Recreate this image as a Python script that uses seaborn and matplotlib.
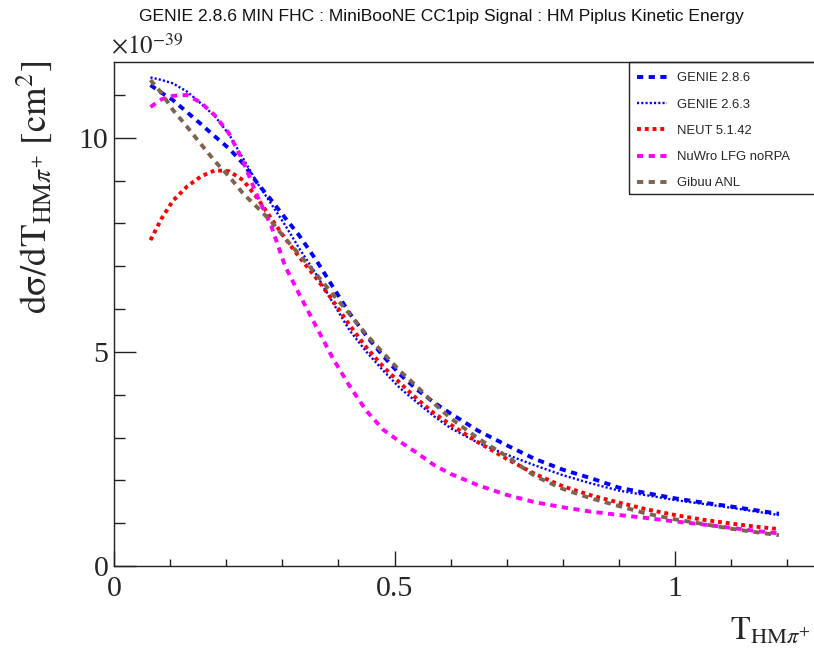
import numpy as np
import pandas as pd
import matplotlib
matplotlib.use("Agg")
import matplotlib.pyplot as plt
import seaborn as sns
from matplotlib.ticker import MultipleLocator
from matplotlib.patches import Rectangle

# ---------------- data ----------------
t_hm = [0.065, 0.085, 0.105, 0.13, 0.155, 0.18, 0.205, 0.23, 0.255, 0.28, 0.305,
        0.33, 0.36, 0.39, 0.42, 0.45, 0.48, 0.51, 0.54, 0.57, 0.6, 0.65, 0.7,
        0.75, 0.8, 0.85, 0.9, 0.95, 1.0, 1.05, 1.1, 1.15, 1.185]

genie_286 = [11.23, 11.05, 10.88, 10.60, 10.32, 10.03, 9.75, 9.40, 8.95, 8.55, 8.13,
             7.72, 7.15, 6.52, 5.90, 5.37, 4.90, 4.47, 4.12, 3.82, 3.56, 3.15, 2.82,
             2.50, 2.25, 2.05, 1.83, 1.70, 1.58, 1.48, 1.39, 1.29, 1.22]
genie_263 = [11.41, 11.35, 11.27, 11.08, 10.80, 10.50, 10.08, 9.52, 8.95, 8.46, 7.96,
             7.42, 6.82, 6.15, 5.50, 5.00, 4.56, 4.15, 3.82, 3.50, 3.22, 2.87, 2.60,
             2.35, 2.12, 1.93, 1.76, 1.65, 1.54, 1.45, 1.36, 1.26, 1.19]
neut = [7.61, 8.12, 8.53, 8.86, 9.10, 9.24, 9.22, 9.01, 8.60, 8.12, 7.65,
        7.22, 6.73, 6.20, 5.62, 5.10, 4.65, 4.27, 3.90, 3.57, 3.30, 2.88, 2.50,
        2.15, 1.86, 1.65, 1.48, 1.32, 1.19, 1.08, 0.99, 0.91, 0.86]
nuwro = [10.72, 10.90, 10.98, 11.00, 10.82, 10.52, 10.10, 9.45, 8.65, 7.95, 7.00,
         6.35, 5.60, 4.85, 4.20, 3.62, 3.18, 2.90, 2.64, 2.36, 2.15, 1.88, 1.66,
         1.49, 1.37, 1.27, 1.19, 1.12, 1.04, 0.97, 0.89, 0.81, 0.76]
gibuu = [11.35, 11.04, 10.65, 10.26, 9.85, 9.45, 9.10, 8.70, 8.38, 8.05, 7.65,
         7.28, 6.82, 6.35, 5.88, 5.40, 4.97, 4.55, 4.19, 3.80, 3.45, 2.97, 2.56,
         2.10, 1.80, 1.58, 1.40, 1.22, 1.09, 0.98, 0.87, 0.78, 0.72]

model_names = ["GENIE 2.8.6", "GENIE 2.6.3", "NEUT 5.1.42", "NuWro LFG noRPA", "Gibuu ANL"]
model_values = [genie_286, genie_263, neut, nuwro, gibuu]

title_text = "GENIE 2.8.6 MIN FHC : MiniBooNE CC1pip Signal : HM Piplus Kinetic Energy"

# ---------------- styling ----------------
sns.set_theme(style="white")
plt.rcParams["font.family"] = ["Liberation Serif", "DejaVu Serif"]
plt.rcParams["mathtext.fontset"] = "stix"

colors = ["#0000ff", "#0000ff", "#ff0000", "#ff00ff", "#7f6250"]
widths = [2.8, 1.7, 2.8, 2.8, 2.8]
styles = [(0, (1.6, 1.4)), (0, (0.9, 0.9)), (0, (1.0, 1.0)), (0, (1.6, 1.4)), (0, (1.6, 1.4))]

W, H = 814, 652
fig = plt.figure(figsize=(W / 100, H / 100), dpi=100)
x0, x1, y0, y1 = 114, 821, 566, 62
ax = fig.add_axes([x0 / W, (H - y0) / H, (x1 - x0) / W, (y0 - y1) / H])
ax.set_facecolor("white")

df = pd.DataFrame({"T": np.tile(t_hm, len(model_names)),
                   "xsec": np.concatenate(model_values),
                   "model": np.repeat(model_names, len(t_hm))})

for name, c, lw, ls in zip(model_names, colors, widths, styles):
    sns.lineplot(data=df[df["model"] == name], x="T", y="xsec", ax=ax, color=c,
                 linewidth=lw, linestyle=ls, label=name, legend=False)

ax.set_xlim(0, 1.26)
ax.set_ylim(0, 11.77)
ax.set_xlabel("")
ax.set_ylabel("")

for s in ax.spines.values():
    s.set_color("#222222")
    s.set_linewidth(1.0)
    s.set_visible(True)

ax.xaxis.set_major_locator(MultipleLocator(0.5))
ax.xaxis.set_minor_locator(MultipleLocator(0.1))
ax.yaxis.set_major_locator(MultipleLocator(5))
ax.yaxis.set_minor_locator(MultipleLocator(1))
ax.set_xticks([0, 0.5, 1])
ax.set_xticklabels(["0", "0.5", "1"])
ax.set_yticks([0, 5, 10])
ax.set_yticklabels(["0", "5", "10"])
ax.tick_params(axis="both", which="both", direction="in", color="#222222", width=1.0,
               bottom=True, left=True, top=False, right=False, labelsize=21.5)
ax.tick_params(axis="x", which="major", length=10.8, pad=7)
ax.tick_params(axis="x", which="minor", length=5.2)
ax.tick_params(axis="y", which="major", length=15.8, pad=4)
ax.tick_params(axis="y", which="minor", length=7.9)

# legend (ROOT-like box drawn separately)
handles, labels = ax.get_legend_handles_labels()
leg = ax.legend(handles, labels, loc="upper left",
                bbox_to_anchor=(0.7285, 0.0, 0.35, 1.0 - 2.5 / (y0 - y1)),
                mode="expand", borderaxespad=0, frameon=False,
                prop={"family": ["Liberation Sans", "DejaVu Sans"], "size": 9.4},
                handlelength=2.3, handletextpad=0.8, labelspacing=1.08, borderpad=0.6)
fig.add_artist(Rectangle((629 / W, 1 - 194 / H), 210 / W, 132 / H, transform=fig.transFigure,
                         facecolor="none", edgecolor="#222222", linewidth=1.0, zorder=5))

# title
fig.text(441 / W, 1 - 16 / H, title_text, ha="center", va="center",
         fontsize=12.6, family=["Liberation Sans", "DejaVu Sans"], color="#111111")

# exponent label
fig.text(111 / W, 1 - 54 / H, r"$\times10^{-39}$", ha="left", va="baseline", fontsize=18)

# y label
fig.text(34 / W, 1 - 61 / H, r"$\mathrm{dσ/dT}_{\mathrm{HM}\pi^{+}}\ [\mathrm{cm}^{2}]$",
         rotation=90, ha="center", va="top", fontsize=26.5)

# x label
fig.text(811 / W, 1 - 631 / H, r"$\mathrm{T}_{\mathrm{HM}\pi^{+}}$", ha="right", va="center",
         fontsize=23)

fig.savefig("out.png", dpi=100, facecolor="white")
